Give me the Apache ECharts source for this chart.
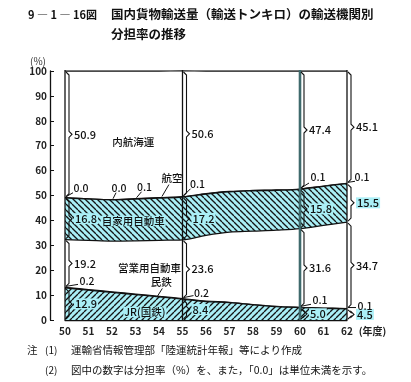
<!DOCTYPE html>
<html><head><meta charset="utf-8">
<script src="https://cdn.jsdelivr.net/npm/echarts@6/dist/echarts.min.js"></script>
<style>html,body{margin:0;padding:0;background:#fff}#c{width:411px;height:382px}</style>
</head><body><div id="c"></div>
<script>
// ---- data (shares in %) ----
const years   = [50,51,52,53,54,55,56,57,58,59,60,61,62];
const jr      = [12.9,12.0,11.1,10.2,9.3,8.4,7.4,7.0,6.1,5.4,5.0,4.7,4.5];
const mintetsu= [0.2,0.2,0.2,0.2,0.2,0.2,0.2,0.1,0.1,0.1,0.1,0.1,0.1];
const eigyo   = [19.2,19.8,20.4,21.4,22.5,23.6,26.4,28.2,29.5,30.6,31.6,33.2,34.7];
const jikayo  = [16.8,16.6,16.6,16.8,17.0,17.2,16.6,16.2,16.2,16.0,15.8,15.7,15.5];
const koku    = [0.0,0.0,0.0,0.1,0.1,0.1,0.1,0.1,0.1,0.1,0.1,0.1,0.1];
const naiko   = [50.9,51.4,51.7,51.3,50.9,50.6,49.3,48.4,48.0,47.8,47.4,46.2,45.1];
const yTicks  = [0,10,20,30,40,50,60,70,80,90,100];
const labelYears = [50,55,60,62];
const kokuLabelYears = [50,52,53,55,60,62];
const mintetsuLabelYears = [50,55,60,62];

// ---- styling / layout ----
const FONT = '"Noto Sans CJK JP","Noto Sans",sans-serif';
const CYAN = '#aaeff6';
function hatch(dir){
  const s = 6, c = document.createElement('canvas');
  c.width = s; c.height = s;
  const g = c.getContext('2d');
  g.fillStyle = CYAN; g.fillRect(0,0,s,s);
  g.strokeStyle = '#151515'; g.lineWidth = 1.3;
  for (let k=-1;k<=1;k++){
    g.beginPath();
    if (dir==='\\'){ g.moveTo(k*s,0); g.lineTo(k*s+s,s); }
    else { g.moveTo(k*s,s); g.lineTo(k*s+s,0); }
    g.stroke();
  }
  return {image:c, repeat:'repeat'};
}
const seriesDefs = [
  {name:'JR(国鉄)', data:jr, fill:hatch('/'), hatched:true},
  {name:'民鉄', data:mintetsu, fill:'#ffffff'},
  {name:'営業用自動車', data:eigyo, fill:'#ffffff'},
  {name:'自家用自動車', data:jikayo, fill:hatch('\\'), hatched:true},
  {name:'航空', data:koku, fill:'#ffffff'},
  {name:'内航海運', data:naiko, fill:'#ffffff'}
];
// cumulative bounds (stacking)
const cum = seriesDefs.map(()=>[]);
years.forEach((y,i)=>{ let s=0; seriesDefs.forEach((d,k)=>{ cum[k][i]=[s, s+d.data[i]]; s+=d.data[i]; }); });

// annotations
const annos = [];
labelYears.forEach(yr=>annos.push({type:'divider', x:yr, lo:yTicks[0], hi:yTicks[yTicks.length-1], strong: yr===60}));
labelYears.forEach(yr=>{
  const i = years.indexOf(yr);
  [0,2,3,5].forEach(k=>{
    const [lo,hi] = cum[k][i];
    annos.push({type:'brace', x:yr, lo, hi:Math.min(hi,100), text:seriesDefs[k].data[i].toFixed(1), bg:seriesDefs[k].hatched});
  });
});
// small values with leader lines: [text dx, dy, leader end dx, dy]
const kokuOffsets = {50:[16,-10,8,-5],52:[7,-12,4,-7],53:[9,-12,6,-7],55:[15,-13,8,-8],60:[18,-12,9,-6],62:[15,-6,8,-2]};
kokuLabelYears.forEach(yr=>{
  const i = years.indexOf(yr);
  annos.push({type:'leader', x:yr, y:cum[4][i][1], text:koku[i].toFixed(1), off:kokuOffsets[yr]});
});
const mintOffsets = {50:[22,-6,13,-3],55:[19,-6,11,-3],60:[20,-7,11,-3],62:[18,-3,9,-1]};
mintetsuLabelYears.forEach(yr=>{
  const i = years.indexOf(yr);
  annos.push({type:'leader', x:yr, y:cum[1][i][1], text:mintetsu[i].toFixed(1), off:mintOffsets[yr]});
});
const names = [
  {text:'内航海運', x:52.9, y:71.5},
  {text:'航空', x:54.55, y:57.2, lead:[-3,7,-10,19]},
  {text:'自家用自動車', x:52.9, y:39.8, bg:true},
  {text:'営業用自動車', x:53.6, y:20.9},
  {text:'民鉄', x:54.1, y:15.1, lead:[1,6,-4,14]},
  {text:'JR(国鉄)', x:53.4, y:3.2, bg:true}
];
names.forEach(n=>annos.push(Object.assign({type:'name'}, n)));

function renderAnno(params, api){
  const a = annos[params.dataIndex];
  const txt = (t,x,y,align,bg,size)=>({type:'text', style:{text:t, x, y, align:align||'left', verticalAlign:'middle',
      font:'500 '+(size||11)+'px '+FONT, fill:'#111', backgroundColor:bg?CYAN:null, padding:bg?[0,1]:0}});
  if (a.type==='divider'){
    const p0 = api.coord([a.x, a.hi]), p1 = api.coord([a.x, a.lo]);
    return {type:'line', shape:{x1:p0[0], y1:p0[1]-1, x2:p1[0], y2:p1[1]},
      style:{stroke: a.strong?'#3f6a6c':'#111', lineWidth: a.strong?2.6:1.3}};
  }
  if (a.type==='brace'){
    const p0 = api.coord([a.x, a.hi]), p1 = api.coord([a.x, a.lo]);
    const x = p0[0], y0 = p0[1], y1 = p1[1], mid = (y0+y1)/2;
    const c = Math.min(3, (y1-y0)/4);
    const pts = [[x+1,y0+1],[x+4,y0+1+c],[x+4,mid-c],[x+7,mid],[x+4,mid+c],[x+4,y1-1-c],[x+1,y1-1]];
    return {type:'group', children:[
      {type:'polyline', shape:{points:pts}, style:{stroke:'#111', lineWidth:1.1, fill:null}},
      txt(a.text, x+9, mid, 'left', a.bg)
    ]};
  }
  if (a.type==='leader'){
    const p = api.coord([a.x, a.y]); const o = a.off;
    return {type:'group', children:[
      {type:'line', shape:{x1:p[0]+1, y1:p[1]-1, x2:p[0]+o[2], y2:p[1]+o[3]}, style:{stroke:'#111', lineWidth:1}},
      txt(a.text, p[0]+o[0], p[1]+o[1], 'center', false, 10.5)
    ]};
  }
  const p = api.coord([a.x, a.y]);
  const ch = [txt(a.text, p[0], p[1], 'center', a.bg, 10.5)];
  if (a.lead) ch.push({type:'line', shape:{x1:p[0]+a.lead[0], y1:p[1]+a.lead[1], x2:p[0]+a.lead[2], y2:p[1]+a.lead[3]}, style:{stroke:'#111', lineWidth:1}});
  return {type:'group', children:ch};
}

const chart = echarts.init(document.getElementById('c'), null, {renderer:'canvas'});
// painter's stacking: each band drawn from 0 up to its cumulative top, upper bands first
const series = [];
for (let k = seriesDefs.length-1; k >= 0; k--){
  const d = seriesDefs[k];
  series.push({
    type:'line', name:d.name, smooth:0.35, symbol:'none',
    data: years.map((y,i)=>[y, cum[k][i][1]]),
    lineStyle:{color:'#111', width:1.3},
    areaStyle:{color:d.fill, opacity:1, origin:'start'},
    z: 2 + (seriesDefs.length-1-k)*0.1
  });
}
series.push({
  type:'custom', coordinateSystem:'cartesian2d', silent:true, z:10, clip:false,
  data: annos.map(a=>[a.x, a.y!==undefined?a.y:a.lo]),
  renderItem: renderAnno
});

chart.setOption({
  animation:false,
  textStyle:{fontFamily:FONT},
  grid:{left:65, right:64, top:71, bottom:62},
  xAxis:{type:'value', min:years[0], max:years[years.length-1], interval:1,
    axisLine:{lineStyle:{color:'#111', width:1.3}}, axisTick:{show:false}, splitLine:{show:false},
    axisLabel:{fontSize:10, fontWeight:'bold', color:'#222', margin:6, fontFamily:FONT},
    name:'(年度)', nameLocation:'end', nameGap:7,
    nameTextStyle:{fontSize:10, fontWeight:'bold', color:'#222', verticalAlign:'top', padding:[6,0,0,0], fontFamily:FONT}},
  yAxis:{type:'value', min:yTicks[0], max:yTicks[yTicks.length-1], interval:10, offset:15,
    axisLine:{show:true, lineStyle:{color:'#111', width:1.3}},
    axisTick:{show:true, inside:true, length:4, lineStyle:{color:'#111'}},
    splitLine:{show:false},
    axisLabel:{fontSize:10, fontWeight:'bold', color:'#222', margin:3, fontFamily:FONT},
    name:'(%)', nameLocation:'end', nameGap:5,
    nameTextStyle:{fontSize:10, color:'#333', align:'right', padding:[0,4,0,0], fontFamily:FONT}},
  graphic:[
    {type:'text', left:28, top:9, style:{text:'9 ― 1 ― 16図', font:'bold 11px '+FONT, fill:'#111'}},
    {type:'text', left:111, top:8, style:{text:'国内貨物輸送量（輸送トンキロ）の輸送機関別', font:'bold 12.5px '+FONT, fill:'#111'}},
    {type:'text', left:111, top:28, style:{text:'分担率の推移', font:'bold 12.5px '+FONT, fill:'#111'}},
    {type:'text', left:27, top:345, style:{text:'注', font:'10.5px '+FONT, fill:'#111'}},
    {type:'text', left:45, top:345, style:{text:'(1)', font:'10px '+FONT, fill:'#111'}},
    {type:'text', left:71, top:345, style:{text:'運輸省情報管理部「陸運統計年報」等により作成', font:'10.5px '+FONT, fill:'#111'}},
    {type:'text', left:45, top:365, style:{text:'(2)', font:'10px '+FONT, fill:'#111'}},
    {type:'text', left:71, top:365, style:{text:'図中の数字は分担率（%）を、また，「0.0」は単位未満を示す。', font:'10.5px '+FONT, fill:'#111'}}
  ],
  series
});
</script></body></html>
